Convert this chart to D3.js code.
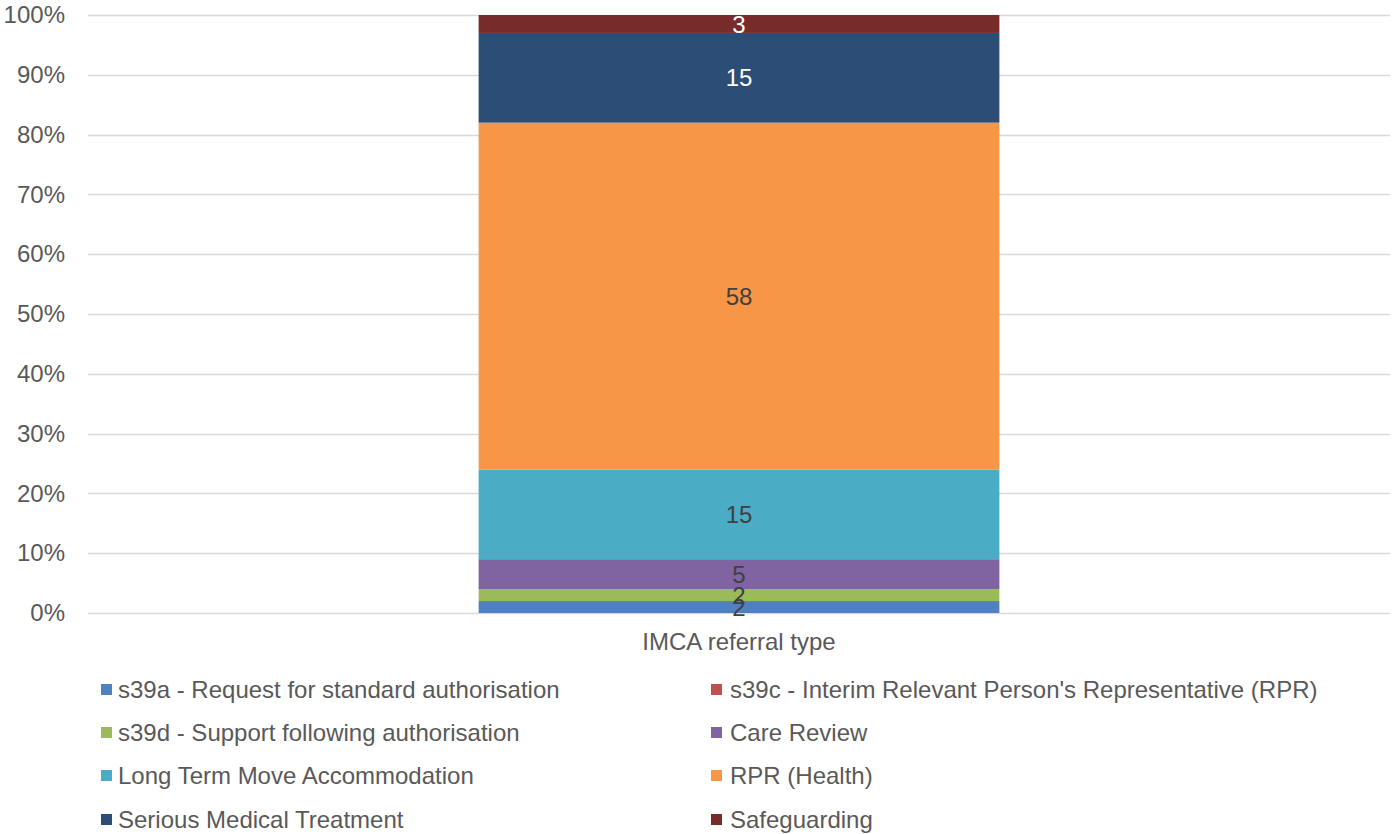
<!DOCTYPE html>
<html><head><meta charset="utf-8">
<script src="https://cdn.jsdelivr.net/npm/d3@7"></script>
<style>body{margin:0;background:#fff}svg{display:block;font-family:"Liberation Sans",Arial,sans-serif}</style>
</head><body><svg id="c" width="1399" height="834"></svg>
<script>
const categories = ["IMCA referral type"];
const seriesNames = ["s39a - Request for standard authorisation","s39c - Interim Relevant Person's Representative (RPR)","s39d - Support following authorisation","Care Review","Long Term Move Accommodation","RPR (Health)","Serious Medical Treatment","Safeguarding"];
const seriesValues = [2, 0, 2, 5, 15, 58, 15, 3];
const seriesColors = ["#4F81BD","#C0504D","#9BBB59","#8064A2","#4BACC6","#F79646","#2C4D75","#772C2A"];
const labelColors = ["#404040","#404040","#404040","#404040","#404040","#404040","#ffffff","#ffffff"];
const tickLabels = ["0%","10%","20%","30%","40%","50%","60%","70%","80%","90%","100%"];

(function(){
const svg = d3.select("#c");
const FS = "24px";
const pLeft = 88, pRight = 1390, pTop = 15, pBottom = 613;
const x = d3.scaleBand().domain(categories).range([pLeft, pRight]).paddingInner(0.4286).paddingOuter(0.4286);
const y = d3.scaleLinear().domain([0, 1]).range([pBottom, pTop]);

const row = {cat: categories[0]};
seriesNames.forEach((n, i) => row[n] = seriesValues[i]);
const stack = d3.stack().keys(seriesNames).offset(d3.stackOffsetExpand);
const layers = stack([row]);

const ticks = d3.range(0, 11).map(i => i / 10);
svg.append("g").selectAll("line").data(ticks).join("line")
  .attr("x1", pLeft).attr("x2", pRight)
  .attr("y1", d => Math.round(y(d)) + 0.5).attr("y2", d => Math.round(y(d)) + 0.5)
  .attr("stroke", "#d9d9d9").attr("stroke-width", 1.3);

const yAxis = d3.axisLeft(y).tickValues(ticks).tickFormat((d, i) => tickLabels[i]).tickSize(0).tickPadding(23);
const gy = svg.append("g").attr("transform", `translate(${pLeft},0)`).call(yAxis);
gy.select(".domain").remove();
gy.selectAll("text").attr("fill", "#595959").style("font-size", FS).style("font-family", "Liberation Sans, Arial, sans-serif");

svg.append("g").selectAll("rect").data(layers).join("rect")
  .attr("x", d => x(d[0].data.cat))
  .attr("width", x.bandwidth())
  .attr("y", d => y(d[0][1]))
  .attr("height", d => y(d[0][0]) - y(d[0][1]))
  .attr("fill", (d, i) => seriesColors[i]);

svg.append("g").selectAll("text").data(layers.filter((d, i) => seriesValues[i] > 0)).join("text")
  .attr("x", d => x(d[0].data.cat) + x.bandwidth() / 2)
  .attr("y", d => (y(d[0][0]) + y(d[0][1])) / 2)
  .attr("dy", "0.36em")
  .attr("text-anchor", "middle")
  .attr("fill", d => labelColors[d.index])
  .style("font-size", FS)
  .text(d => seriesValues[d.index]);

const xAxis = d3.axisBottom(x).tickSize(0);
const gx = svg.append("g").attr("transform", `translate(0,${pBottom})`).call(xAxis);
gx.select(".domain").remove();
gx.selectAll("text").attr("y", 28).attr("dy", "0.36em").attr("fill", "#595959").style("font-size", FS).style("font-family", "Liberation Sans, Arial, sans-serif");

const colX = [101, 711], rowY = [689, 732, 775, 819];
const lg = svg.append("g").selectAll("g").data(seriesNames).join("g")
  .attr("transform", (d, i) => `translate(${colX[i % 2]},${rowY[Math.floor(i / 2)]})`);
lg.append("rect").attr("x", 0).attr("y", -5).attr("width", 11).attr("height", 11).attr("fill", (d, i) => seriesColors[i]);
lg.append("text").attr("x", (d, i) => i % 2 === 0 ? 17 : 19).attr("y", 0).attr("dy", "0.36em")
  .attr("fill", "#595959").style("font-size", FS).text(d => d);
})();
</script></body></html>
